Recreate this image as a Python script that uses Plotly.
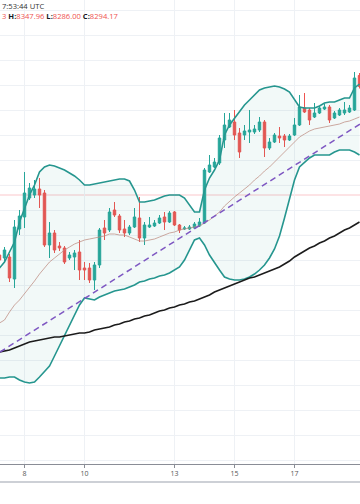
import plotly.graph_objects as go
import pandas as pd

# ---------------- data (4h candles) ----------------
times = pd.date_range("2020-01-07 04:00", periods=73, freq="4h")

open_ = [7620, 7608, 7612, 7524, 7724, 7772, 7848, 7860, 7884, 7868,
         7660, 7708, 7656, 7648, 7608, 7612, 7632, 7568, 7568, 7520,
         7580, 7728, 7720, 7800, 7776, 7724, 7708, 7732, 7768, 7688,
         7732, 7736, 7748, 7772, 7752, 7792, 7740, 7724, 7724, 7728,
         7736, 7748, 7952, 7972, 7988, 8080, 8132, 8152, 8108, 8100,
         8112, 8112, 8120, 8152, 8048, 8072, 8096, 8096, 8080, 8100,
         8140, 8208, 8200, 8172, 8188, 8204, 8212, 8168, 8180, 8188,
         8192, 8200, 8338.13]
high = [7632, 7652, 7624, 7760, 7800, 7952, 7908, 7920, 7928, 7880,
        7752, 7720, 7672, 7656, 7632, 7640, 7680, 7592, 7588, 7592,
        7728, 7760, 7808, 7832, 7784, 7760, 7740, 7808, 7852, 7752,
        7772, 7760, 7780, 7792, 7796, 7796, 7744, 7736, 7740, 7752,
        7768, 7968, 8020, 8008, 8100, 8188, 8188, 8200, 8128, 8140,
        8200, 8140, 8172, 8160, 8088, 8108, 8132, 8104, 8104, 8168,
        8260, 8268, 8208, 8228, 8216, 8224, 8220, 8196, 8208, 8232,
        8220, 8352, 8347.96]
low = [7592, 7592, 7512, 7488, 7700, 7728, 7840, 7848, 7808, 7652,
       7608, 7628, 7636, 7584, 7600, 7560, 7520, 7520, 7508, 7480,
       7568, 7680, 7712, 7772, 7708, 7692, 7700, 7728, 7672, 7660,
       7728, 7732, 7744, 7720, 7748, 7736, 7708, 7720, 7720, 7724,
       7732, 7744, 7948, 7968, 7980, 8048, 8128, 8080, 8008, 8080,
       8068, 8104, 8112, 8012, 8040, 8068, 8068, 8052, 8076, 8096,
       8136, 8188, 8140, 8168, 8184, 8200, 8148, 8164, 8176, 8180,
       8188, 8196, 8286.00]
close = [7600, 7640, 7528, 7732, 7776, 7868, 7888, 7884, 7860, 7660,
         7708, 7640, 7648, 7592, 7620, 7628, 7560, 7560, 7520, 7580,
         7720, 7708, 7792, 7780, 7720, 7708, 7732, 7772, 7688, 7740,
         7740, 7748, 7768, 7752, 7788, 7740, 7720, 7728, 7732, 7744,
         7752, 7960, 7980, 7992, 8088, 8140, 8160, 8100, 8032, 8116,
         8120, 8124, 8152, 8048, 8072, 8100, 8088, 8080, 8096, 8140,
         8212, 8192, 8160, 8188, 8208, 8212, 8160, 8188, 8200, 8200,
         8208, 8328, 8294.17]

bb_upper = [7568, 7592, 7632, 7672, 7752, 7808, 7860, 7900, 7952, 7972,
            7980, 7976, 7968, 7960, 7948, 7936, 7920, 7900, 7900, 7904,
            7908, 7912, 7916, 7920, 7924, 7924, 7916, 7880, 7832, 7832,
            7836, 7840, 7848, 7856, 7860, 7860, 7860, 7848, 7820, 7792,
            7792, 7880, 7928, 7960, 8000, 8100, 8140, 8168, 8192, 8220,
            8240, 8260, 8280, 8288, 8292, 8296, 8292, 8284, 8272, 8240,
            8212, 8208, 8208, 8208, 8216, 8228, 8232, 8232, 8240, 8248,
            8248, 8288, 8304]
bb_lower = [7128, 7128, 7132, 7132, 7120, 7112, 7108, 7112, 7132, 7152,
            7176, 7216, 7256, 7300, 7340, 7380, 7420, 7448, 7444, 7440,
            7452, 7460, 7468, 7476, 7480, 7484, 7492, 7500, 7512, 7516,
            7524, 7528, 7536, 7540, 7548, 7560, 7572, 7600, 7640, 7680,
            7688, 7660, 7620, 7588, 7560, 7532, 7524, 7520, 7520, 7524,
            7532, 7544, 7560, 7580, 7608, 7644, 7696, 7768, 7848, 7920,
            7972, 7992, 8008, 8020, 8020, 8020, 8020, 8032, 8040, 8040,
            8040, 8032, 8020]
bb_basis = [7348, 7360, 7392, 7420, 7440, 7464, 7488, 7516, 7544, 7568,
            7592, 7608, 7624, 7640, 7652, 7664, 7672, 7680, 7684, 7688,
            7692, 7696, 7704, 7704, 7700, 7700, 7692, 7684, 7676, 7676,
            7680, 7684, 7692, 7700, 7708, 7712, 7720, 7724, 7728, 7732,
            7736, 7748, 7760, 7776, 7792, 7816, 7836, 7852, 7868, 7884,
            7900, 7920, 7936, 7956, 7972, 7992, 8012, 8032, 8052, 8072,
            8092, 8104, 8116, 8124, 8128, 8132, 8136, 8140, 8144, 8152,
            8156, 8164, 8172]
ma_long = [7232, 7236, 7240, 7248, 7256, 7264, 7272, 7276, 7280, 7284,
           7288, 7292, 7292, 7296, 7300, 7304, 7308, 7308, 7312, 7320,
           7324, 7328, 7332, 7340, 7344, 7352, 7356, 7364, 7368, 7376,
           7380, 7388, 7396, 7400, 7408, 7412, 7420, 7424, 7432, 7436,
           7444, 7452, 7460, 7472, 7480, 7488, 7496, 7504, 7512, 7520,
           7528, 7532, 7540, 7548, 7556, 7564, 7572, 7584, 7596, 7612,
           7624, 7636, 7648, 7656, 7668, 7676, 7688, 7696, 7708, 7720,
           7728, 7740, 7752]

trend_times = ["2020-01-07 04:24", "2020-01-19 04:24"]
trend_prices = [7232, 8144]

hline_price = 7860

tick_vals = ["2020-01-08", "2020-01-10", "2020-01-13", "2020-01-15", "2020-01-17"]
tick_text = ["8", "10", "13", "15", "17"]

header_time = "7:53:44 UTC"
hdr_o_tail, hdr_h, hdr_l, hdr_c = "3", "8347.96", "8286.00", "8294.17"

# ---------------- figure ----------------
TEAL = "#26968f"
UP = "#26a69a"
DOWN = "#ef5350"

fig = go.Figure()

# band fill
fig.add_trace(go.Scatter(x=times, y=bb_upper, mode="lines",
                         line=dict(color="rgba(0,0,0,0)", width=0),
                         hoverinfo="skip", showlegend=False))
fig.add_trace(go.Scatter(x=times, y=bb_lower, mode="lines",
                         line=dict(color="rgba(0,0,0,0)", width=0),
                         fill="tonexty", fillcolor="rgba(38,150,143,0.06)",
                         hoverinfo="skip", showlegend=False))

fig.add_trace(go.Candlestick(
    x=times, open=open_, high=high, low=low, close=close,
    increasing=dict(line=dict(color=UP, width=1), fillcolor=UP),
    decreasing=dict(line=dict(color=DOWN, width=1), fillcolor=DOWN),
    whiskerwidth=0, showlegend=False))

fig.add_trace(go.Scatter(x=times, y=bb_basis, mode="lines",
                         line=dict(color="rgba(190,140,130,0.75)", width=1),
                         showlegend=False))
fig.add_trace(go.Scatter(x=times, y=bb_upper, mode="lines",
                         line=dict(color=TEAL, width=1.6), showlegend=False))
fig.add_trace(go.Scatter(x=times, y=bb_lower, mode="lines",
                         line=dict(color=TEAL, width=1.6), showlegend=False))
fig.add_trace(go.Scatter(x=times, y=ma_long, mode="lines",
                         line=dict(color="#1c1c1c", width=1.6), showlegend=False))
fig.add_trace(go.Scatter(x=trend_times, y=trend_prices, mode="lines",
                         line=dict(color="#7e57c2", width=1.5, dash="6px,4px"),
                         showlegend=False))

fig.add_shape(type="line", xref="paper", x0=0, x1=1, y0=hline_price, y1=hline_price,
              line=dict(color="rgba(242,54,69,0.28)", width=1), layer="below")
fig.add_shape(type="line", xref="paper", yref="paper", x0=0, x1=1,
              y0=-18 / 464, y1=-18 / 464,
              line=dict(color="#cdd0d6", width=2))

fig.add_annotation(text=header_time, xref="paper", yref="paper", x=0, y=1,
                   xanchor="left", yanchor="top", xshift=0, yshift=1, showarrow=False,
                   font=dict(family="Open Sans", size=7.6, color="#333"))
lbl = "color:#131722"
red = "color:#ef5350"
line2 = (f'<span style="{red}">{hdr_o_tail}</span> '
         f'<span style="{lbl}"><b>H:</b></span><span style="{red}">{hdr_h}</span> '
         f'<span style="{lbl}"><b>L:</b></span><span style="{red}">{hdr_l}</span> '
         f'<span style="{lbl}"><b>C:</b></span><span style="{red}">{hdr_c}</span>')
fig.add_annotation(text=line2, xref="paper", yref="paper", x=0, y=1,
                   xanchor="left", yanchor="top", xshift=0, yshift=-9, showarrow=False,
                   font=dict(family="Open Sans", size=7.6, color="#ef5350"))

fig.update_layout(
    width=360, height=504, autosize=False,
    margin=dict(l=0, r=0, t=0, b=40),
    paper_bgcolor="white", plot_bgcolor="white",
    showlegend=False,
    xaxis=dict(
        type="date",
        range=["2020-01-07 04:24", "2020-01-19 04:24"],
        rangeslider=dict(visible=False),
        tickvals=tick_vals, ticktext=tick_text,
        showgrid=True, gridcolor="#eef1f5", gridwidth=1,
        showline=True, linecolor="#8a8d96", linewidth=1,
        ticks="outside", ticklen=3, tickcolor="#8a8d96",
        tickfont=dict(family="Open Sans", size=7, color="#555"),
        zeroline=False, fixedrange=True,
    ),
    yaxis=dict(
        range=[6784, 8640],
        showticklabels=False, ticks="",
        showgrid=True, gridcolor="#eef1f5", gridwidth=1,
        dtick=100, zeroline=False, fixedrange=True,
    ),
)

fig.write_html("out.html", config={"displayModeBar": False},
               post_script="document.body.style.margin='0';document.body.style.overflow='hidden';")
